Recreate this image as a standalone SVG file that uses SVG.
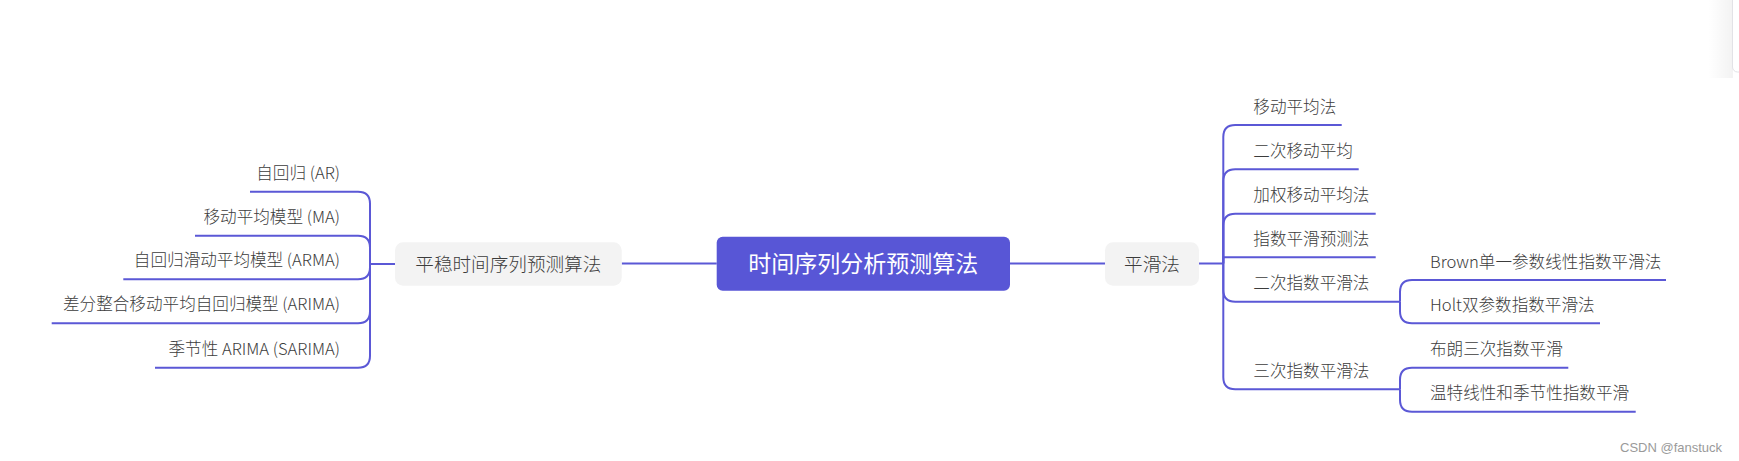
<svg xmlns="http://www.w3.org/2000/svg" width="1739" height="461" viewBox="0 0 1739 461">
  <defs>
    <style>
      text { font-family: "Noto Sans CJK SC", "Noto Sans", "Liberation Sans", sans-serif; fill: #3c3c3c; font-weight: 300; }
      .leaf { font-size: 16.6px; }
      .main { font-size: 18.6px; }
      .root { font-size: 23px; fill: #ffffff; font-weight: 400; }
      .box { fill: #f3f3f3; }
      .conn { fill: none; stroke: #5b58d6; stroke-width: 2; stroke-linecap: butt; stroke-linejoin: round; }
      .wm { font-family: "Liberation Sans", Arial, sans-serif; font-size: 13px; fill: #9a9a9a; font-weight: 400; }
    </style>
    <linearGradient id="sh" x1="0" y1="0" x2="1" y2="0">
      <stop offset="0" stop-color="#000" stop-opacity="0"/>
      <stop offset="1" stop-color="#000" stop-opacity="0.05"/>
    </linearGradient>
  </defs>
  <rect x="0" y="0" width="1739" height="461" fill="#ffffff"/>

  <!-- corner panel edge -->
  <g id="panel-edge">
    <rect x="1708" y="0" width="25" height="78" fill="url(#sh)"/>
    <rect x="1732.5" y="-10" width="20" height="82" rx="5" fill="#ffffff" stroke="#e2e2e6" stroke-width="1"/>
  </g>

  <g id="connectors">
    <!-- root to main nodes -->
    <path class="conn" d="M716.7 263.5 H621.7"/>
    <path class="conn" d="M1010 263.5 H1105"/>
    <!-- left main to vertical -->
    <path class="conn" d="M395 264 H370"/>
    <path class="conn" d="M370 264 V203.7 Q370 191.7 358 191.7 H250"/>
    <path class="conn" d="M370 264 V247.7 Q370 235.7 358 235.7 H195"/>
    <path class="conn" d="M370 264 V267.3 Q370 279.3 358 279.3 H123.3"/>
    <path class="conn" d="M370 264 V311.3 Q370 323.3 358 323.3 H51.7"/>
    <path class="conn" d="M370 264 V355.7 Q370 367.7 358 367.7 H155"/>
    <!-- right main to vertical -->
    <path class="conn" d="M1199 263.5 H1223.3"/>
    <path class="conn" d="M1223.3 263.5 V137 Q1223.3 125 1235.3 125 H1341.7"/>
    <path class="conn" d="M1223.3 263.5 V181.3 Q1223.3 169.3 1235.3 169.3 H1358.7"/>
    <path class="conn" d="M1223.3 263.5 V225.7 Q1223.3 213.7 1235.3 213.7 H1375.7"/>
    <path class="conn" d="M1223.3 263.5 V257.3 H1375.7"/>
    <path class="conn" d="M1223.3 263.5 V289.7 Q1223.3 301.7 1235.3 301.7 H1400"/>
    <path class="conn" d="M1223.3 263.5 V377.3 Q1223.3 389.3 1235.3 389.3 H1400"/>
    <!-- grandchildren -->
    <path class="conn" d="M1400 301.7 V292 Q1400 280 1412 280 H1666"/>
    <path class="conn" d="M1400 301.7 V311.3 Q1400 323.3 1412 323.3 H1600"/>
    <path class="conn" d="M1400 389.3 V379.7 Q1400 367.7 1412 367.7 H1568.3"/>
    <path class="conn" d="M1400 389.3 V399.7 Q1400 411.7 1412 411.7 H1635.7"/>
  </g>

  <g id="root">
    <rect x="716.7" y="236.7" width="293.3" height="54" rx="6" fill="#5856d6"/>
    <text class="root" x="863.3" y="272" text-anchor="middle">时间序列分析预测算法</text>
  </g>

  <g id="stationary">
    <rect class="box" x="395" y="242.3" width="226.7" height="43.4" rx="8"/>
    <text class="main" x="508.3" y="271" text-anchor="middle">平稳时间序列预测算法</text>
  </g>
  <g id="ar"><text class="leaf" x="340" y="178.7" text-anchor="end">自回归 (AR)</text></g>
  <g id="ma"><text class="leaf" x="340" y="222.7" text-anchor="end">移动平均模型 (MA)</text></g>
  <g id="arma"><text class="leaf" x="340" y="266.3" text-anchor="end">自回归滑动平均模型 (ARMA)</text></g>
  <g id="arima"><text class="leaf" x="340" y="310.3" text-anchor="end">差分整合移动平均自回归模型 (ARIMA)</text></g>
  <g id="sarima"><text class="leaf" x="340" y="354.7" text-anchor="end">季节性 ARIMA (SARIMA)</text></g>

  <g id="smoothing">
    <rect class="box" x="1105" y="242.3" width="94" height="43.4" rx="8"/>
    <text class="main" x="1152" y="271" text-anchor="middle">平滑法</text>
  </g>
  <g id="ma-method"><text class="leaf" x="1253.3" y="112.5">移动平均法</text></g>
  <g id="double-ma"><text class="leaf" x="1253.3" y="156.8">二次移动平均</text></g>
  <g id="weighted-ma"><text class="leaf" x="1253.3" y="201.2">加权移动平均法</text></g>
  <g id="exp-smoothing"><text class="leaf" x="1253.3" y="244.8">指数平滑预测法</text></g>
  <g id="double-exp"><text class="leaf" x="1253.3" y="289.2">二次指数平滑法</text></g>
  <g id="triple-exp"><text class="leaf" x="1253.3" y="376.8">三次指数平滑法</text></g>
  <g id="brown"><text class="leaf" x="1430" y="267.5">Brown单一参数线性指数平滑法</text></g>
  <g id="holt"><text class="leaf" x="1430" y="310.8">Holt双参数指数平滑法</text></g>
  <g id="brown-triple"><text class="leaf" x="1430" y="355.2">布朗三次指数平滑</text></g>
  <g id="winters"><text class="leaf" x="1430" y="399.2">温特线性和季节性指数平滑</text></g>

  <text class="wm" x="1620" y="451.5">CSDN @fanstuck</text>
</svg>
